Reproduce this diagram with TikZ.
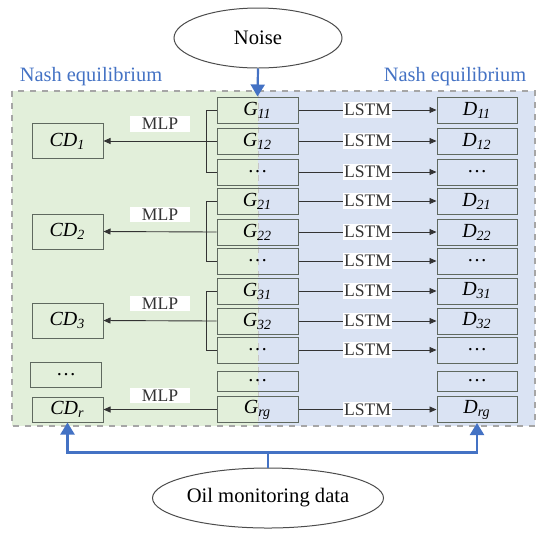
\documentclass[tikz,border=0pt]{standalone}
\usepackage{fontspec}
\setmainfont{Liberation Serif}
\usetikzlibrary{arrows.meta,positioning,calc,shapes.geometric}
\definecolor{gamegreen}{RGB}{226,239,218}
\definecolor{gameblue}{RGB}{218,227,243}
\definecolor{nashblue}{RGB}{68,114,196}
\definecolor{boxline}{RGB}{95,105,95}
\newcommand{\sym}[2]{\textit{#1}\textsubscript{\textit{#2}}}
\tikzset{
  gbox/.style={draw=boxline, line width=0.5pt, minimum width=40.5pt, minimum height=13pt,
               inner sep=0pt, font=\fontsize{10}{12}\selectfont},
  dbox/.style={gbox, minimum width=40pt},
  cdbox/.style={gbox, minimum width=35.5pt, minimum height=17.5pt},
  tag/.style={fill=white, inner xsep=0.6pt, inner ysep=1pt, font=\fontsize{8.8}{10}\selectfont},
  mlptag/.style={tag, inner xsep=6pt, above=4.5pt},
  conn/.style={-{Triangle[length=3.5pt,width=3pt]}, line width=0.45pt, black!80},
  brk/.style={line width=0.45pt, black!80},
  feed/.style={-{Triangle[length=6pt,width=7pt]}, nashblue, line width=1.1pt},
  cloud/.style={ellipse, draw=black!70, line width=0.5pt, inner sep=0pt,
                font=\fontsize{10.3}{12}\selectfont},
  ttl/.style={text=nashblue, font=\fontsize{10.2}{12}\selectfont},
}

\begin{document}
\begin{tikzpicture}[x=0.5pt,y=-0.5pt]
  \useasboundingbox (0,0) rectangle (550,537);
  % game areas
  \fill[gamegreen] (12,91) rectangle (258,426);
  \fill[gameblue] (258,91) rectangle (535,426);
  \draw[gray!45, dashed, line width=0.4pt] (258,91) -- (258,426);
  \draw[gray!70, dashed, line width=0.6pt] (12,91) rectangle (535,426);
  \node[ttl] (nashl) at (91,77) {Nash equilibrium};
  \node[ttl] (nashr) at (455,77) {Nash equilibrium};

  \node[cloud, minimum width=84pt, minimum height=30pt] (noise) at (258,38) {Noise};
  \node[cloud, minimum width=115.5pt, minimum height=30pt] (oil) at (268,498) {Oil monitoring data};

  % generators, discriminators
  \foreach \n/\y/\g/\d in {11/110/\sym{G}{11}/\sym{D}{11}, 12/141/\sym{G}{12}/\sym{D}{12},
      1d/172/\ldots/\ldots, 21/201/\sym{G}{21}/\sym{D}{21}, 22/232/\sym{G}{22}/\sym{D}{22},
      2d/261/\ldots/\ldots, 31/291/\sym{G}{31}/\sym{D}{31}, 32/321/\sym{G}{32}/\sym{D}{32},
      3d/350/\ldots/\ldots, rg/409.5/\sym{G}{rg}/\sym{D}{rg}} {
    \node[gbox] (g\n) at (257.5,\y) {\g};
    \node[dbox] (d\n) at (477,\y) {\d};
    \draw[conn] (g\n) -- node[tag] (lstm\n) {LSTM} (d\n);
  }
  \node[gbox, minimum height=10pt] (gx) at (257.5,381) {\ldots};
  \node[dbox, minimum height=10pt] (dx) at (477,381) {\ldots};

  % collective discriminators
  \node[cdbox] (cd1) at (67.5,141) {\sym{CD}{1}};
  \node[cdbox] (cd2) at (67.5,231.5) {\sym{CD}{2}};
  \node[cdbox] (cd3) at (67.5,320.5) {\sym{CD}{3}};
  \node[cdbox, minimum height=12.5pt] (cdx) at (66,374.5) {\ldots};
  \node[cdbox, minimum height=12.5pt] (cdr) at (67.5,409.5) {\sym{CD}{r}};

  \foreach \k in {1,2,3} {
    \draw[brk] (g\k1.west) -- ++(-10,0) |- (g\k d.west);
    \draw[conn] (g\k2.west) -- node[mlptag] (mlp\k) {MLP} (cd\k.east);
  }
  \draw[conn] (grg.west) -- node[mlptag, above=3pt] (mlpr) {MLP} (cdr.east);

  % data feeds
  \draw[feed] (noise.south) -- (g11.north);
  \coordinate (fork) at ($(oil.north)+(0,-15)$);
  \draw[nashblue, line width=1.1pt] (oil.north) -- (fork);
  \draw[feed] (fork) -| (cdr.south);
  \draw[feed] (fork) -| (drg.south);
\end{tikzpicture}
\end{document}
